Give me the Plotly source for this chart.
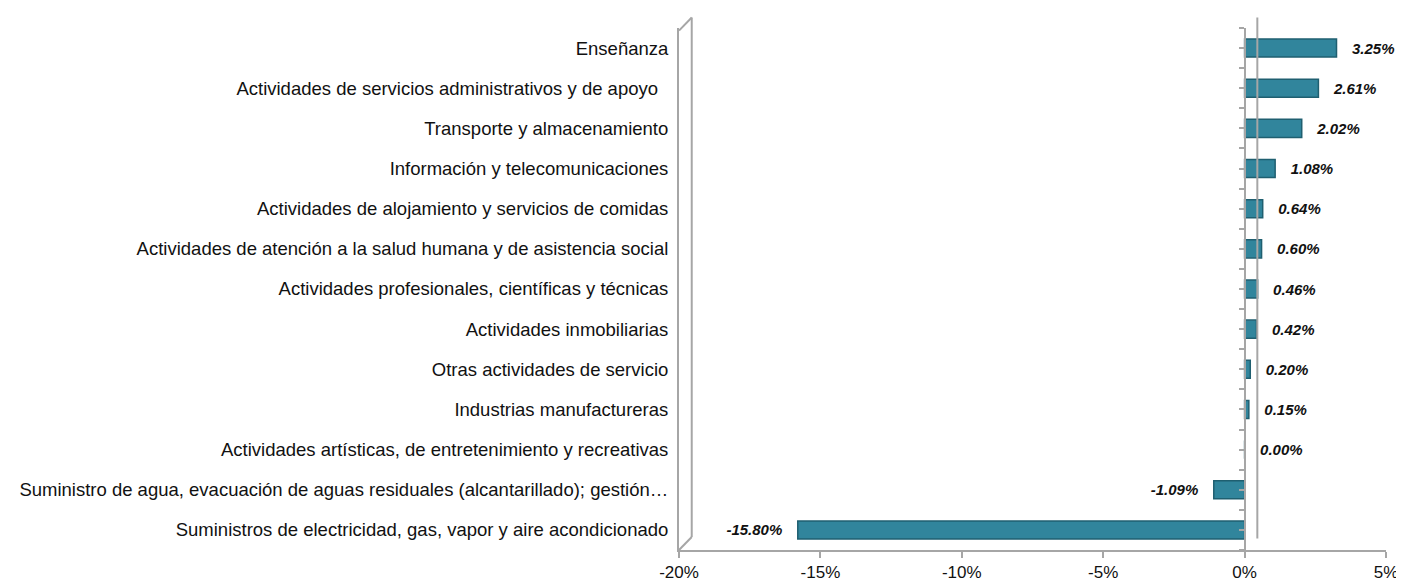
import plotly.graph_objects as go

categories = [
    "Suministros de electricidad, gas, vapor y aire acondicionado",
    "Suministro de agua, evacuación de aguas residuales (alcantarillado); gestión…",
    "Actividades artísticas, de entretenimiento y recreativas",
    "Industrias manufactureras",
    "Otras actividades de servicio",
    "Actividades inmobiliarias",
    "Actividades profesionales, científicas y técnicas",
    "Actividades de atención a la salud humana y de asistencia social",
    "Actividades de alojamiento y servicios de comidas",
    "Información y telecomunicaciones",
    "Transporte y almacenamiento",
    "Actividades de servicios administrativos y de apoyo\u00a0\u00a0",
    "Enseñanza",
]
values = [-15.80, -1.09, 0.00, 0.15, 0.20, 0.42, 0.46, 0.60, 0.64, 1.08, 2.02, 2.61, 3.25]
x_ticks = [-20, -15, -10, -5, 0, 5]

pad = "\u00a0\u00a0\u00a0"
templates = [("%{x:.2f}%" + pad) if v < 0 else (pad + "%{x:.2f}%") for v in values]

fig = go.Figure()
fig.add_trace(go.Bar(
    y=categories, x=values, orientation="h",
    marker=dict(color="#31859C", line=dict(color="#1F5F70", width=1.5)),
    texttemplate=templates, textposition="outside", cliponaxis=False,
    textfont=dict(family="Liberation Sans, Arial", size=15, color="#111111",
                  weight="bold", style="italic"),
    width=0.45,
))
# helper trace so the free-positioned category tick axis at 0% is drawn
fig.add_trace(go.Scatter(x=[None], y=[None], yaxis="y2", showlegend=False,
                         hoverinfo="skip"))

gray = "#A6A6A6"
shapes = [
    dict(type="line", xref="x", yref="paper", x0=-19.55, x1=-19.55, y0=0.025, y1=1.02,
         line=dict(color=gray, width=2)),
    dict(type="line", xref="x", yref="paper", x0=-20, x1=-19.55, y0=0.0, y1=0.025,
         line=dict(color=gray, width=2)),
    dict(type="line", xref="x", yref="paper", x0=-20, x1=-19.55, y0=0.995, y1=1.02,
         line=dict(color=gray, width=2)),
    dict(type="line", xref="x", yref="paper", x0=0.45, x1=0.45, y0=0.022, y1=1.02,
         line=dict(color=gray, width=2)),
]

n = len(categories)
fig.update_layout(
    width=1396, height=573,
    margin=dict(l=671, r=18, t=20, b=31),
    paper_bgcolor="white", plot_bgcolor="white",
    showlegend=False,
    bargap=0.55,
    font=dict(family="Liberation Sans, Arial", color="#111111"),
    shapes=shapes,
    xaxis=dict(
        range=[-20, 5], tickvals=x_ticks, ticktext=[f"{v}%" for v in x_ticks],
        showgrid=False, zeroline=False, automargin=False,
        showline=True, linecolor=gray, linewidth=2,
        ticks="outside", ticklen=6, tickcolor=gray, tickwidth=2,
        tickfont=dict(size=17, color="#111111"),
    ),
    yaxis=dict(
        categoryorder="array", categoryarray=categories,
        range=[-0.5, n - 0.5], automargin=False,
        showgrid=False, zeroline=False,
        showline=True, linecolor=gray, linewidth=2,
        ticks="", ticklabelstandoff=5,
        tickfont=dict(size=18.5, color="#111111"),
    ),
    yaxis2=dict(
        overlaying="y", anchor="free", position=0.8, side="left",
        range=[-0.5, n - 0.5], automargin=False,
        tickvals=[i * 0.5 - 0.5 for i in range(2 * n + 1)],
        showticklabels=False, showgrid=False, zeroline=False,
        showline=True, linecolor=gray, linewidth=2,
        ticks="outside", ticklen=5, tickcolor=gray, tickwidth=2,
    ),
)

fig.write_html("out.html")
